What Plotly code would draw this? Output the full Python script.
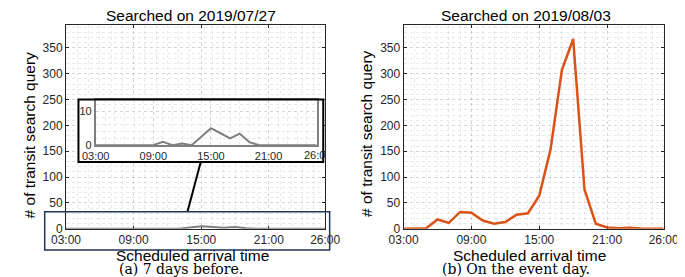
import plotly.graph_objects as go

# ---------------- data ----------------
hours = list(range(3, 27))
tick_hours = [3, 9, 15, 21, 26]
tick_labels = ["03:00", "09:00", "15:00", "21:00", "26:00"]
y_ticks = [0, 50, 100, 150, 200, 250, 300, 350]
inset_y_ticks = [0, 10]

searches_7days_before = [0, 0, 0, 0, 0, 0, 0, 1, 0, 0.5, 0, 2.5,
                         5, 3.5, 2, 3.4, 0.9, 0, 0, 0, 0, 0, 0, 0]
searches_event_day = [0, 0, 1, 18, 11.5, 32.5, 31, 16, 9.6, 13, 27, 30,
                      64, 154, 307, 367, 76, 9.6, 2.6, 1, 2, 0.5, 0, 0]

titles = ["Searched on 2019/07/27", "Searched on 2019/08/03"]
x_title = "Scheduled arrival time"
y_title = "# of transit search query"
captions = ["(a) 7 days before.", "(b) On the event day."]

# ---------------- layout helpers ----------------
W, H = 685, 277
def px(x):
    return x / W
def py(y):
    return 1 - y / H

AX = "#262626"
GRID = "rgba(0,0,0,0.085)"
GRAY = "#7f7f7f"
ORANGE = "#D95319"
SANS = "Liberation Sans, Arial, sans-serif"
SERIF = "DejaVu Serif, serif"

fig = go.Figure()
fig.add_trace(go.Scatter(x=hours, y=searches_7days_before, mode="lines",
                         line=dict(color=GRAY, width=2), xaxis="x", yaxis="y",
                         showlegend=False, cliponaxis=False))
fig.add_trace(go.Scatter(x=hours, y=searches_event_day, mode="lines",
                         line=dict(color=ORANGE, width=2.5), xaxis="x2", yaxis="y2",
                         showlegend=False, cliponaxis=False))
# white panel behind the inset (its own subplot so it covers the main grid)
fig.add_trace(go.Scatter(x=[], y=[], xaxis="x3", yaxis="y3", showlegend=False))
fig.add_trace(go.Scatter(x=hours, y=searches_7days_before, mode="lines",
                         line=dict(color=GRAY, width=2), xaxis="x4", yaxis="y4",
                         showlegend=False))

def main_x(domain, anchor):
    return dict(domain=domain, anchor=anchor, range=[3, 26], tickmode="array",
                tickvals=tick_hours, ticktext=tick_labels, ticks="inside",
                ticklen=3, tickcolor=AX, showline=True, linecolor=AX, linewidth=1,
                mirror="ticks", showgrid=True, gridcolor=GRID, griddash="dot",
                gridwidth=1, zeroline=False, layer="below traces",
                tickfont=dict(family=SANS, size=12, color=AX),
                minor=dict(dtick=1, tick0=3, showgrid=True, gridcolor=GRID,
                           griddash="dot", gridwidth=1, ticks=""))

def main_y(domain, anchor):
    return dict(domain=domain, anchor=anchor, range=[0, 395], tickmode="array",
                tickvals=y_ticks, ticks="inside", ticklen=3, tickcolor=AX,
                showline=True, linecolor=AX, linewidth=1, mirror="ticks",
                showgrid=True, gridcolor=GRID, griddash="dot", gridwidth=1,
                zeroline=False, layer="below traces",
                tickfont=dict(family=SANS, size=12, color=AX),
                minor=dict(dtick=10, tick0=0, showgrid=True, gridcolor=GRID,
                           griddash="dot", gridwidth=1, ticks=""))

ydom = [py(226.5), py(17)]
fig.update_layout(
    width=W, height=H, margin=dict(l=0, r=0, t=0, b=0),
    paper_bgcolor="white", plot_bgcolor="white", showlegend=False,
    xaxis=main_x([px(45), px(316)], "y"),
    yaxis=main_y(ydom, "x"),
    xaxis2=main_x([px(398), px(670)], "y2"),
    yaxis2=main_y(ydom, "x2"),
    xaxis3=dict(domain=[px(58), px(314)], anchor="y3", visible=False, range=[0, 1]),
    yaxis3=dict(domain=[py(158), py(94)], anchor="x3", visible=False, range=[0, 1]),
    xaxis4=dict(domain=[px(76), px(307)], anchor="y4", range=[3, 26],
                tickmode="array", tickvals=tick_hours[:-1], ticktext=tick_labels[:-1],
                ticks="", showline=True, linecolor=GRAY, linewidth=1.5, mirror=True,
                showgrid=True, gridcolor=GRID, griddash="dot", zeroline=False,
                tickfont=dict(family=SANS, size=11, color=AX),
                minor=dict(dtick=1, tick0=3, showgrid=True, gridcolor=GRID,
                           griddash="dot", ticks="")),
    yaxis4=dict(domain=[py(140.7), py(94.3)], anchor="x4", range=[0, 13.3],
                tickmode="array", tickvals=inset_y_ticks, ticks="",
                showline=True, linecolor=GRAY, linewidth=1.5, mirror=True,
                showgrid=True, gridcolor=GRID, griddash="dot", zeroline=False,
                tickfont=dict(family=SANS, size=11, color=AX),
                minor=dict(dtick=2, tick0=0, showgrid=True, gridcolor=GRID,
                           griddash="dot", ticks="")),
)

ann = []
def add_text(text, x, y, size, family=SANS, angle=0, xanchor="center"):
    ann.append(dict(text=text, x=px(x), y=py(y), xref="paper", yref="paper",
                    xanchor=xanchor, yanchor="middle", showarrow=False,
                    textangle=angle, borderpad=0,
                    font=dict(family=family, size=size, color="black")))

add_text(titles[0], 176, 7.5, 15.5)
add_text(titles[1], 526, 7.5, 15.5)
add_text(x_title, 177, 254, 15.5)
add_text(x_title, 530, 254, 15.5)
add_text(y_title, 7, 130, 15.5, angle=-90)
add_text(y_title, 360, 129, 15.5, angle=-90)
add_text(captions[0], 165, 267.5, 14, family=SERIF)
add_text(captions[1], 516, 267.5, 14, family=SERIF)
# last inset tick label, clipped by the black frame
ann.append(dict(text=tick_labels[-1][:-1], x=px(292), y=py(150.7), xref="paper",
                yref="paper", xanchor="left", yanchor="middle", showarrow=False,
                font=dict(family=SANS, size=11, color=AX)))
fig.update_layout(annotations=ann)

shapes = [
    dict(type="rect", xref="paper", yref="paper", x0=px(58), x1=px(314),
         y0=py(158), y1=py(94), line=dict(color="black", width=2), layer="above"),
    dict(type="line", xref="paper", yref="paper", x0=px(172), y0=py(209),
         x1=px(186), y1=py(157.5), line=dict(color="black", width=2), layer="above"),
    dict(type="rect", xref="paper", yref="paper", x0=px(22.7), x1=px(320.7),
         y0=py(248.3), y1=py(209), line=dict(color="#1F3559", width=1.5), layer="above"),
]
fig.update_layout(shapes=shapes)

fig.write_html("out.html")
